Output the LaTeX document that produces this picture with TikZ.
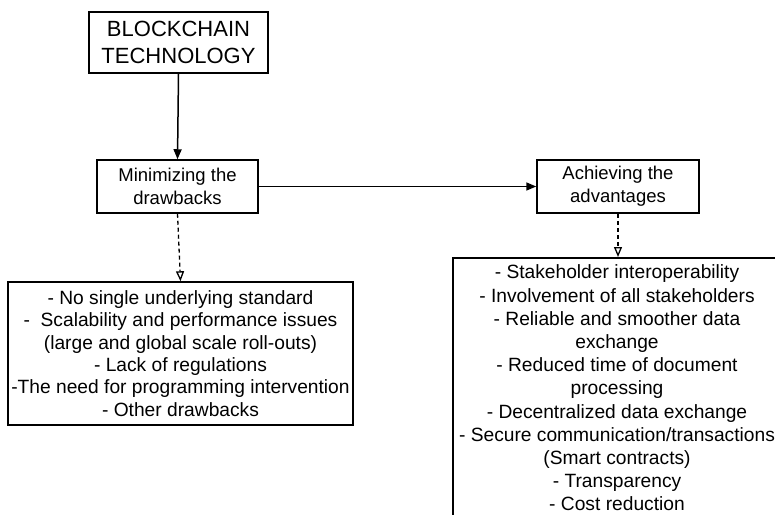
\documentclass[tikz,border=0pt]{standalone}
\usepackage{fontspec}
\setmainfont{Liberation Sans}
\usetikzlibrary{arrows.meta}
\tikzset{
  box/.style={draw, line width=1.5pt, align=center, inner sep=0pt},
  solidarrow/.style={line width=1.5pt, -{Triangle[length=10pt,width=8pt]}},
  dasharrow/.style={line width=1.3pt, dash pattern=on 4pt off 3pt, -{Triangle[open,length=10pt,width=8pt]}},
}
\begin{document}
\begin{tikzpicture}[x=1pt,y=-1pt]
\useasboundingbox (0,0) rectangle (775,514);
\clip (0,0) rectangle (775,514);
\fill[white] (0,0) rectangle (775,514);
\node[box, minimum width=179pt, minimum height=61pt, font=\fontsize{22}{27}\selectfont] (bt) at (178.5,42.5) {BLOCKCHAIN\\TECHNOLOGY};
\node[box, minimum width=161pt, minimum height=53pt, font=\fontsize{18.5}{23}\selectfont] (min) at (177.5,186.5) {Minimizing the\\drawbacks};
\node[box, minimum width=162pt, minimum height=53pt, font=\fontsize{18.5}{23}\selectfont] (ach) at (618,186.5) {Achieving the\\advantages};
\node[box, minimum width=345pt, minimum height=143pt, font=\fontsize{19.2}{22.4}\selectfont] (drw) at (180.5,353.5) {- No single underlying standard\\-~~Scalability and performance issues\\(large and global scale roll-outs)\\- Lack of regulations\\-The need for programming intervention\\- Other drawbacks};
\node[draw, line width=1.5pt, minimum width=330pt, minimum height=280pt, anchor=north, inner sep=0pt] (advbox) at (618,257) {};
\node[align=center, inner sep=0pt, font=\fontsize{19.2}{23.2}\selectfont] (adv) at (617,388) {- Stakeholder interoperability\\- Involvement of all stakeholders\\- Reliable and smoother data\\exchange\\- Reduced time of document\\processing\\- Decentralized data exchange\\- Secure communication/transactions\\(Smart contracts)\\- Transparency\\- Cost reduction};
\draw[solidarrow] (bt.south) -- (min.north);
\draw[solidarrow] (min.east) -- (ach.west);
\draw[dasharrow] (min.south) -- (drw.north);
\draw[dasharrow] (ach.south) -- (advbox.north);
\end{tikzpicture}
\end{document}
